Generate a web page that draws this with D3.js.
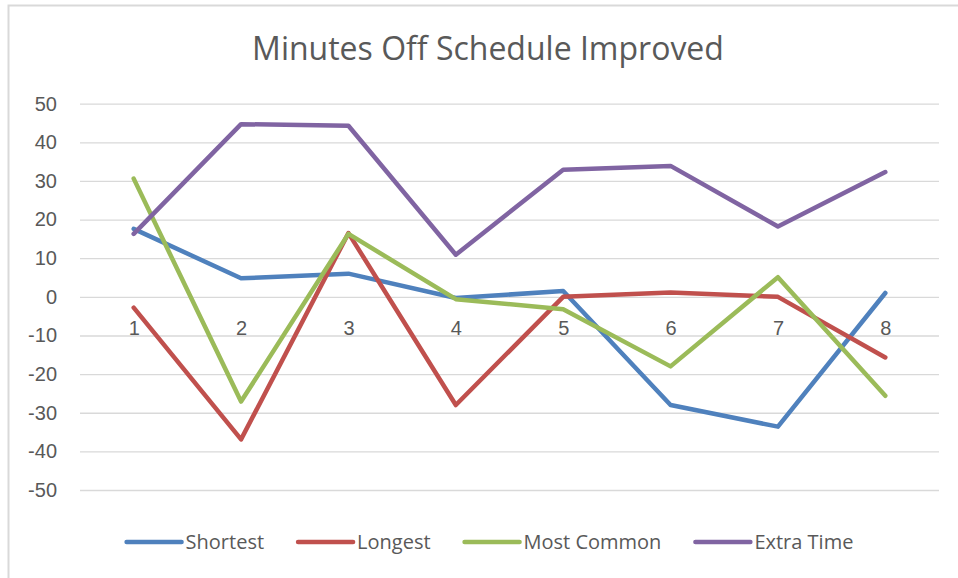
<!DOCTYPE html>
<html>
<head>
<meta charset="utf-8">
<script src="https://cdn.jsdelivr.net/npm/d3@7"></script>
<style>
  body { margin: 0; background: #fff; }
  svg { display: block; font-family: "Open Sans", "Noto Sans", sans-serif; }
  .axis text { fill: #595959; font-size: 20px; }
</style>
</head>
<body>
<script>
// chart data
var categories = ["1", "2", "3", "4", "5", "6", "7", "8"];
var seriesNames = ["Shortest", "Longest", "Most Common", "Extra Time"];
var shortest   = [17.6, 4.8, 6.0, -0.3, 1.5, -28, -33.6, 1.0];
var longest    = [-2.8, -36.9, 16.5, -28, 0, 1.1, 0, -15.7];
var mostCommon = [30.6, -27.1, 16.3, -0.6, -3.2, -18, 5.1, -25.6];
var extraTime  = [16.3, 44.7, 44.3, 10.9, 32.9, 33.9, 18.2, 32.3];
var yTicks = [-50, -40, -30, -20, -10, 0, 10, 20, 30, 40, 50];
var colors = ["#4F81BD", "#C0504D", "#9BBB59", "#8064A2"];

var series = [shortest, longest, mostCommon, extraTime];

var w = 958, h = 578;
var plotLeft = 80, plotRight = 939, plotTop = 103.7, plotBottom = 490;

var svg = d3.select("body").append("svg")
  .attr("width", w)
  .attr("height", h);

// chart frame (only top/left edges are visible in the crop)
svg.append("rect")
  .attr("x", 8.5).attr("y", 5.5)
  .attr("width", 970).attr("height", 600)
  .attr("fill", "none")
  .attr("stroke", "#D9D9D9")
  .attr("stroke-width", 2);

var xScale = d3.scalePoint()
  .domain(categories)
  .range([plotLeft, plotRight])
  .padding(0.5);
var yScale = d3.scaleLinear()
  .domain([-50, 50])
  .range([plotBottom, plotTop]);

// gridlines + y labels (plain hyphen for negatives, like the original)
var yAxis = d3.axisLeft(yScale)
  .tickValues(yTicks)
  .tickSize(-(plotRight - plotLeft))
  .tickPadding(23)
  .tickFormat(function(d) { return String(d); });
var gy = svg.append("g")
  .attr("class", "axis")
  .attr("transform", "translate(" + plotLeft + ",0)")
  .call(yAxis);
gy.select(".domain").remove();
gy.selectAll("line").attr("stroke", "#D9D9D9").attr("stroke-width", 1.3);

// category labels sit under the 0 line
var xAxis = d3.axisBottom(xScale)
  .tickSize(0)
  .tickPadding(24);
var gx = svg.append("g")
  .attr("class", "axis")
  .attr("transform", "translate(0," + yScale(0) + ")")
  .call(xAxis);
gx.select(".domain").remove();

// lines
var line = d3.line()
  .x(function(d, i) { return xScale(categories[i]); })
  .y(function(d) { return yScale(d); });

svg.selectAll(".series")
  .data(series)
  .enter()
  .append("path")
  .attr("class", "series")
  .attr("d", line)
  .attr("fill", "none")
  .attr("stroke", function(d, i) { return colors[i]; })
  .attr("stroke-width", 4.5)
  .attr("stroke-linejoin", "round")
  .attr("stroke-linecap", "round");

// title
svg.append("text")
  .attr("x", 488)
  .attr("y", 60)
  .attr("text-anchor", "middle")
  .style("font-size", "32px")
  .attr("fill", "#595959")
  .text("Minutes Off Schedule Improved");

// legend
var legend = svg.append("g");
var lx = 0;
seriesNames.forEach(function(name, i) {
  var item = legend.append("g").attr("transform", "translate(" + lx + ",0)");
  item.append("line")
    .attr("x1", 0).attr("x2", 55)
    .attr("y1", 0).attr("y2", 0)
    .attr("stroke", colors[i])
    .attr("stroke-width", 4.5)
    .attr("stroke-linecap", "round");
  var t = item.append("text")
    .attr("x", 59)
    .attr("y", 7)
    .attr("fill", "#595959")
    .style("font-size", "20px")
    .text(name);
  lx += 59 + t.node().getComputedTextLength() + 34;
});
lx -= 34;
legend.attr("transform", "translate(" + (490 - lx / 2) + ",542)");
</script>
</body>
</html>
